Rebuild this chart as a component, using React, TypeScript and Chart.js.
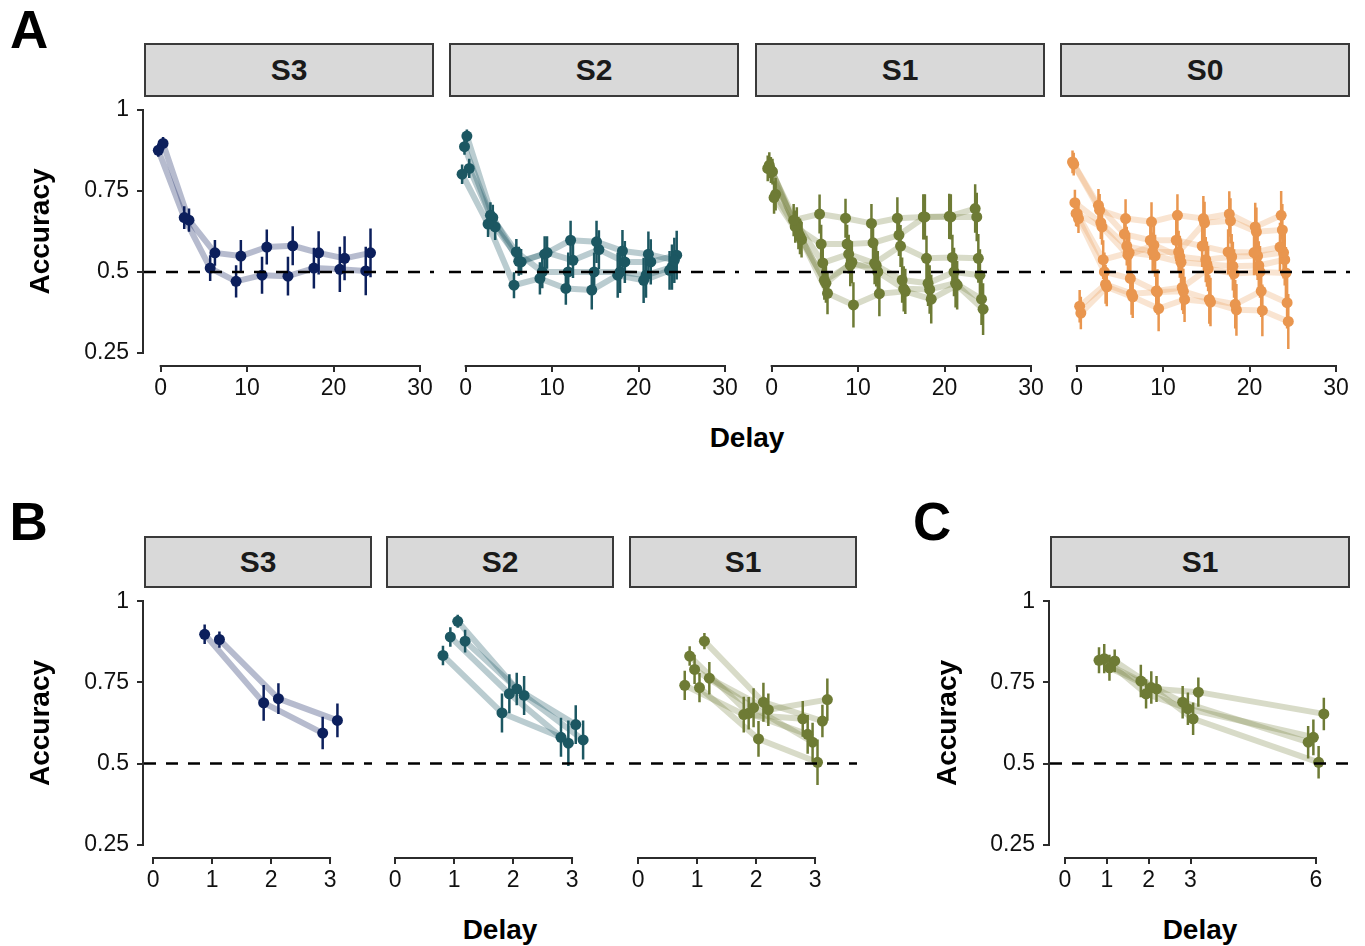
import React, { useEffect, useRef } from "react";
import { Chart, registerables } from "chart.js";

Chart.register(...registerables);

const FONT = "'Liberation Sans', Arial, Helvetica, sans-serif";
const AXIS_COLOR = "#2b2b2b";
const TEXT_COLOR = "#111111";

// ---------- shared axis data ----------
const yTicks = [0.25, 0.5, 0.75, 1];
const yTickLabels = ["0.25", "0.5", "0.75", "1"];
const yMin = 0.2125;
const yMax = 1.0375;
const chanceLevel = 0.5;

// ---------- Row A (delay 0..24) ----------
const delaysA = [0, 3, 6, 9, 12, 15, 18, 21, 24];
const xTicksA = [0, 10, 20, 30];
const xTickLabelsA = ["0", "10", "20", "30"];

const accA_S3 = [
  [0.876, 0.668, 0.512, 0.471, 0.49, 0.487, 0.512, 0.508, 0.503],
  [0.897, 0.66, 0.559, 0.549, 0.577, 0.581, 0.559, 0.542, 0.559],
];
const errA_S3 = [
  [0.02, 0.035, 0.04, 0.05, 0.057, 0.06, 0.063, 0.07, 0.075],
  [0.02, 0.036, 0.04, 0.05, 0.054, 0.06, 0.067, 0.068, 0.075],
];

const accA_S2 = [
  [0.802, 0.648, 0.459, 0.48, 0.449, 0.444, 0.49, 0.474, 0.505],
  [0.887, 0.675, 0.562, 0.5, 0.5, 0.5, 0.5, 0.49, 0.515],
  [0.92, 0.668, 0.533, 0.555, 0.598, 0.593, 0.565, 0.555, 0.536],
  [0.82, 0.639, 0.531, 0.56, 0.536, 0.569, 0.531, 0.531, 0.552],
];
const errA_S2 = [
  [0.03, 0.04, 0.04, 0.05, 0.05, 0.06, 0.07, 0.07, 0.06],
  [0.025, 0.04, 0.04, 0.05, 0.06, 0.06, 0.065, 0.07, 0.07],
  [0.02, 0.04, 0.045, 0.055, 0.06, 0.065, 0.065, 0.07, 0.07],
  [0.03, 0.04, 0.04, 0.05, 0.055, 0.06, 0.065, 0.07, 0.075],
];

const accA_S1 = [
  [0.82, 0.66, 0.679, 0.666, 0.65, 0.666, 0.67, 0.672, 0.696],
  [0.83, 0.64, 0.586, 0.586, 0.59, 0.614, 0.67, 0.67, 0.67],
  [0.815, 0.65, 0.528, 0.555, 0.527, 0.58, 0.542, 0.545, 0.542],
  [0.81, 0.62, 0.474, 0.521, 0.52, 0.475, 0.465, 0.5, 0.49],
  [0.73, 0.61, 0.465, 0.53, 0.5, 0.448, 0.446, 0.465, 0.416],
  [0.74, 0.6, 0.434, 0.398, 0.433, 0.44, 0.416, 0.459, 0.385],
];
const errA_S1 = [
  [0.04, 0.05, 0.06, 0.06, 0.06, 0.065, 0.07, 0.07, 0.075],
  [0.04, 0.05, 0.06, 0.06, 0.06, 0.065, 0.07, 0.07, 0.075],
  [0.04, 0.05, 0.06, 0.06, 0.065, 0.065, 0.07, 0.07, 0.075],
  [0.04, 0.05, 0.06, 0.065, 0.065, 0.07, 0.07, 0.075, 0.08],
  [0.05, 0.055, 0.06, 0.065, 0.065, 0.07, 0.075, 0.075, 0.08],
  [0.05, 0.055, 0.065, 0.07, 0.07, 0.07, 0.075, 0.075, 0.08],
];

const accA_S0 = [
  [0.84, 0.706, 0.617, 0.598, 0.598, 0.58, 0.562, 0.56, 0.577],
  [0.833, 0.691, 0.665, 0.655, 0.675, 0.665, 0.679, 0.639, 0.675],
  [0.714, 0.652, 0.58, 0.562, 0.562, 0.652, 0.658, 0.624, 0.63],
  [0.681, 0.639, 0.552, 0.583, 0.547, 0.538, 0.547, 0.55, 0.56],
  [0.68, 0.538, 0.56, 0.55, 0.53, 0.524, 0.518, 0.52, 0.538],
  [0.665, 0.5, 0.48, 0.441, 0.452, 0.51, 0.495, 0.5, 0.497],
  [0.394, 0.462, 0.433, 0.438, 0.44, 0.415, 0.4, 0.441, 0.405],
  [0.373, 0.454, 0.423, 0.387, 0.415, 0.407, 0.383, 0.381, 0.347],
];
const errA_S0 = [
  [0.035, 0.05, 0.06, 0.06, 0.065, 0.065, 0.07, 0.07, 0.075],
  [0.035, 0.05, 0.06, 0.06, 0.065, 0.07, 0.07, 0.075, 0.075],
  [0.04, 0.05, 0.06, 0.06, 0.065, 0.065, 0.07, 0.075, 0.08],
  [0.04, 0.055, 0.06, 0.065, 0.065, 0.07, 0.07, 0.075, 0.08],
  [0.04, 0.06, 0.06, 0.065, 0.07, 0.07, 0.075, 0.075, 0.08],
  [0.045, 0.06, 0.065, 0.065, 0.07, 0.07, 0.075, 0.08, 0.08],
  [0.05, 0.06, 0.065, 0.07, 0.07, 0.075, 0.075, 0.08, 0.08],
  [0.05, 0.06, 0.065, 0.07, 0.07, 0.075, 0.08, 0.08, 0.085],
];

// ---------- Row B (delay 1..3) ----------
const delaysB = [1, 2, 3];
const xTicksB = [0, 1, 2, 3];
const xTickLabelsB = ["0", "1", "2", "3"];

const accB_S3 = [
  [0.898, 0.687, 0.594],
  [0.882, 0.7, 0.633],
];
const errB_S3 = [
  [0.03, 0.055, 0.05],
  [0.025, 0.047, 0.052],
];
const accB_S2 = [
  [0.833, 0.656, 0.581],
  [0.89, 0.715, 0.563],
  [0.938, 0.73, 0.62],
  [0.877, 0.71, 0.573],
];
const errB_S2 = [
  [0.03, 0.06, 0.06],
  [0.03, 0.06, 0.07],
  [0.02, 0.05, 0.06],
  [0.035, 0.06, 0.06],
];
const accB_S1 = [
  [0.741, 0.651, 0.638],
  [0.831, 0.655, 0.59],
  [0.79, 0.672, 0.566],
  [0.734, 0.576, 0.504],
  [0.877, 0.689, 0.631],
  [0.763, 0.666, 0.697],
];
const errB_S1 = [
  [0.045, 0.055, 0.055],
  [0.03, 0.05, 0.06],
  [0.045, 0.06, 0.06],
  [0.045, 0.055, 0.07],
  [0.025, 0.06, 0.05],
  [0.05, 0.05, 0.065],
];

// ---------- Panel C (delay 1,2,3,6) ----------
const delaysC = [1, 2, 3, 6];
const xTicksC = [0, 1, 2, 3, 6];
const xTickLabelsC = ["0", "1", "2", "3", "6"];
const accC_S1 = [
  [0.818, 0.754, 0.689, 0.566],
  [0.823, 0.715, 0.669, 0.581],
  [0.795, 0.734, 0.638, 0.504],
  [0.816, 0.73, 0.72, 0.653],
];
const errC_S1 = [
  [0.04, 0.05, 0.05, 0.05],
  [0.045, 0.045, 0.05, 0.055],
  [0.04, 0.05, 0.05, 0.05],
  [0.035, 0.04, 0.045, 0.05],
];

// ---------- colours ----------
const COL = {
  S3: { pt: "#0c1f5c", ln: "rgba(12,31,92,0.3)" },
  S2: { pt: "#1c5762", ln: "rgba(28,87,98,0.3)" },
  S1: { pt: "#6e7b35", ln: "rgba(110,123,53,0.27)" },
  S0: { pt: "#e9964f", ln: "rgba(233,150,79,0.26)" },
};

// ---------- layout constants ----------
const X_AXIS_H = 45;
const PAD_T = 30;
const PAD_R = 20;
const PAD_B = 10;
const PAD_L = 20;

const rangeFrame = {
  id: "rangeFrame",
  afterDraw(chart: any) {
    const ctx = chart.ctx;
    const xs = chart.scales.x;
    const ys = chart.scales.y;
    ctx.save();
    ctx.strokeStyle = AXIS_COLOR;
    ctx.lineWidth = 2;
    if (xs && xs.options.display) {
      const t = xs.ticks;
      const a = xs.getPixelForValue(t[0].value);
      const b = xs.getPixelForValue(t[t.length - 1].value);
      ctx.beginPath();
      ctx.moveTo(a - 1, xs.top + 1);
      ctx.lineTo(b + 1, xs.top + 1);
      ctx.stroke();
    }
    if (ys && ys.options.display) {
      const t = ys.ticks;
      const a = ys.getPixelForValue(t[0].value);
      const b = ys.getPixelForValue(t[t.length - 1].value);
      ctx.beginPath();
      ctx.moveTo(ys.right - 1, a + 1);
      ctx.lineTo(ys.right - 1, b - 1);
      ctx.stroke();
    }
    ctx.restore();
  },
};

type PanelProps = {
  left: number;
  top: number;
  width: number;
  height: number;
  xMin: number;
  xMax: number;
  xTicks: number[];
  xTickLabels: string[];
  delays: number[];
  acc: number[][];
  err: number[][];
  color: string;
  lineColor: string;
  dodge: number;
  showY: boolean;
  yAxisW?: number;
  yTitlePad?: number;
};

function Panel(p: PanelProps) {
  const ref = useRef<HTMLCanvasElement>(null);
  const yW = p.yAxisW || 0;
  const canvasLeft = p.showY ? p.left - yW : p.left - PAD_L;
  const canvasTop = p.top - PAD_T;
  const cw = p.left - canvasLeft + p.width + PAD_R;
  const ch = PAD_T + p.height + X_AXIS_H + PAD_B;

  useEffect(() => {
    if (!ref.current) return;
    const n = p.acc.length;
    const xPos = (i: number, d: number) => d + ((i - (n - 1) / 2) * p.dodge) / n;
    const datasets: any[] = [];
    datasets.push({
      data: [
        { x: p.xMin, y: chanceLevel },
        { x: p.xMax, y: chanceLevel },
      ],
      borderColor: "#000000",
      borderWidth: 2.5,
      borderDash: [12, 10],
      pointRadius: 0,
      order: 0,
      clip: 0,
    });
    p.acc.forEach((series, i) => {
      const pts = series.map((v, j) => ({ x: xPos(i, p.delays[j]), y: v }));
      const bars: any[] = [];
      series.forEach((v, j) => {
        const x = xPos(i, p.delays[j]);
        const e = p.err[i][j];
        bars.push({ x, y: v - e }, { x, y: v + e }, { x, y: null });
      });
      datasets.push({
        data: pts,
        showLine: false,
        pointRadius: 5.5,
        pointBackgroundColor: p.color,
        pointBorderWidth: 0,
        order: 1,
      });
      datasets.push({
        data: bars,
        borderColor: p.color,
        borderWidth: 2.5,
        pointRadius: 0,
        spanGaps: false,
        order: 2,
      });
      datasets.push({
        data: pts,
        borderColor: p.lineColor,
        borderWidth: 6,
        borderJoinStyle: "round",
        pointRadius: 0,
        order: 3,
      });
    });

    const yScale: any = {
      type: "linear",
      display: p.showY,
      bounds: "data",
      min: yMin,
      max: yMax,
      afterBuildTicks: (s: any) => {
        s.ticks = yTicks.map((v) => ({ value: v }));
      },
      ticks: {
        autoSkip: false,
        callback: (_v: any, i: number) => yTickLabels[i],
        font: { family: FONT, size: 23 },
        color: TEXT_COLOR,
        padding: 8,
      },
      grid: {
        display: true,
        drawOnChartArea: false,
        drawTicks: true,
        tickLength: 7,
        color: AXIS_COLOR,
        lineWidth: 2,
      },
      border: { display: false },
      title: {
        display: p.showY,
        text: "Accuracy",
        font: { family: FONT, size: 28, weight: "bold" },
        color: "#000000",
        padding: { top: p.yTitlePad || 0, bottom: 0 },
      },
    };
    if (p.showY) {
      yScale.afterFit = (s: any) => {
        s.width = yW;
      };
    }

    const chart = new Chart(ref.current, {
      type: "line",
      data: { datasets },
      options: {
        responsive: false,
        animation: false,
        events: [],
        layout: {
          padding: { left: p.showY ? 0 : PAD_L, right: PAD_R, top: PAD_T, bottom: PAD_B },
        },
        plugins: { legend: { display: false }, tooltip: { enabled: false } },
        scales: {
          x: {
            type: "linear",
            bounds: "data",
            min: p.xMin,
            max: p.xMax,
            afterBuildTicks: (s: any) => {
              s.ticks = p.xTicks.map((v) => ({ value: v }));
            },
            afterFit: (s: any) => {
              s.height = X_AXIS_H;
            },
            ticks: {
              autoSkip: false,
              maxRotation: 0,
              callback: (_v: any, i: number) => p.xTickLabels[i],
              font: { family: FONT, size: 23 },
              color: TEXT_COLOR,
              padding: 3,
            },
            grid: {
              display: true,
              drawOnChartArea: false,
              drawTicks: true,
              tickLength: 7,
              color: AXIS_COLOR,
              lineWidth: 2,
            },
            border: { display: false },
          },
          y: yScale,
        },
      } as any,
      plugins: [rangeFrame],
    });
    return () => chart.destroy();
  }, []);

  return (
    <canvas
      ref={ref}
      width={cw}
      height={ch}
      style={{ position: "absolute", left: canvasLeft, top: canvasTop, width: cw, height: ch }}
    />
  );
}

function Strip({ left, top, width, height, label }: any) {
  return (
    <div
      style={{
        position: "absolute",
        left,
        top,
        width,
        height,
        boxSizing: "border-box",
        background: "#d9d9d9",
        border: "2px solid #3a3a3a",
        display: "flex",
        alignItems: "center",
        justifyContent: "center",
        fontFamily: FONT,
        fontWeight: "bold",
        fontSize: 30,
        color: "#1a1a1a",
      }}
    >
      {label}
    </div>
  );
}

function Label({ left, top, size, text, width, align }: any) {
  return (
    <div
      style={{
        position: "absolute",
        left,
        top,
        width: width || "auto",
        textAlign: align || "left",
        fontFamily: FONT,
        fontWeight: "bold",
        fontSize: size,
        lineHeight: size + "px",
        color: "#000000",
        whiteSpace: "nowrap",
      }}
    >
      {text}
    </div>
  );
}

export default function App() {
  const rowA = [
    { left: 144, label: "S3", acc: accA_S3, err: errA_S3, c: COL.S3, showY: true },
    { left: 449, label: "S2", acc: accA_S2, err: errA_S2, c: COL.S2, showY: false },
    { left: 755, label: "S1", acc: accA_S1, err: errA_S1, c: COL.S1, showY: false },
    { left: 1060, label: "S0", acc: accA_S0, err: errA_S0, c: COL.S0, showY: false },
  ];
  const rowB = [
    { left: 144, label: "S3", acc: accB_S3, err: errB_S3, c: COL.S3, showY: true },
    { left: 386, label: "S2", acc: accB_S2, err: errB_S2, c: COL.S2, showY: false },
    { left: 629, label: "S1", acc: accB_S1, err: errB_S1, c: COL.S1, showY: false },
  ];
  return (
    <div
      style={{
        position: "absolute",
        left: 0,
        top: 0,
        width: 1365,
        height: 946,
        overflow: "hidden",
        background: "#ffffff",
      }}
    >
      <Label left={10} top={3} size={53} text="A" />
      <Label left={9.5} top={495} size={53} text="B" />
      <Label left={913} top={495} size={53} text="C" />

      {rowA.map((r) => (
        <React.Fragment key={"A" + r.label}>
          <Strip left={r.left} top={43} width={290} height={54} label={r.label} />
          <Panel
            left={r.left}
            top={98}
            width={290}
            height={267}
            xMin={-1.93}
            xMax={31.62}
            xTicks={xTicksA}
            xTickLabels={xTickLabelsA}
            delays={delaysA}
            acc={r.acc}
            err={r.err}
            color={r.c.pt}
            lineColor={r.c.ln}
            dodge={1.1}
            showY={r.showY}
            yAxisW={144}
            yTitlePad={24}
          />
        </React.Fragment>
      ))}
      <Label left={547} top={424} size={28} width={400} align="center" text="Delay" />

      {rowB.map((r) => (
        <React.Fragment key={"B" + r.label}>
          <Strip left={r.left} top={536} width={228} height={52} label={r.label} />
          <Panel
            left={r.left}
            top={589}
            width={228}
            height={268}
            xMin={-0.153}
            xMax={3.711}
            xTicks={xTicksB}
            xTickLabels={xTickLabelsB}
            delays={delaysB}
            acc={r.acc}
            err={r.err}
            color={r.c.pt}
            lineColor={r.c.ln}
            dodge={0.5}
            showY={r.showY}
            yAxisW={144}
            yTitlePad={24}
          />
        </React.Fragment>
      ))}
      <Label left={300} top={916} size={28} width={400} align="center" text="Delay" />

      <Strip left={1050} top={536} width={300} height={52} label="S1" />
      <Panel
        left={1050}
        top={589}
        width={300}
        height={268}
        xMin={-0.359}
        xMax={6.813}
        xTicks={xTicksC}
        xTickLabels={xTickLabelsC}
        delays={delaysC}
        acc={accC_S1}
        err={errC_S1}
        color={COL.S1.pt}
        lineColor={COL.S1.ln}
        dodge={0.5}
        showY={true}
        yAxisW={150}
        yTitlePad={31}
      />
      <Label left={1000} top={916} size={28} width={400} align="center" text="Delay" />
    </div>
  );
}
